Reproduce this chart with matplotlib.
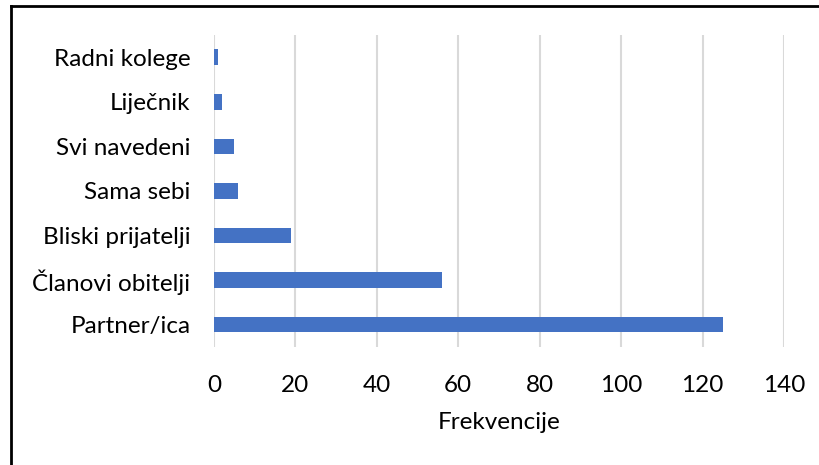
import matplotlib.pyplot as plt
from matplotlib.lines import Line2D

categories = ["Partner/ica", "Članovi obitelji", "Bliski prijatelji", "Sama sebi",
              "Svi navedeni", "Liječnik", "Radni kolege"]
values = [125, 56, 19, 6, 5, 2, 1]
xticks = [0, 20, 40, 60, 80, 100, 120, 140]

plt.rcParams['font.family'] = ['Lato', 'DejaVu Sans']

fig = plt.figure(figsize=(8.2, 4.65), dpi=100)
ax = fig.add_axes([0.261, 0.254, 0.695, 0.671])

ax.barh(range(len(categories)), values, height=0.35, color='#4472c4', zorder=3)
ax.set_yticks(range(len(categories)))
ax.set_yticklabels(categories, fontsize=17.5)
ax.set_ylim(-0.5, len(categories) - 0.5)
ax.set_xlim(0, 140)
ax.set_xticks(xticks)
ax.set_xticklabels([str(t) for t in xticks], fontsize=17.5)
ax.set_xlabel('Frekvencije', fontsize=17.5, labelpad=12)

ax.grid(axis='x', color='#d9d9d9', linewidth=1.5, zorder=0)
for s in ax.spines.values():
    s.set_visible(False)
ax.tick_params(axis='both', length=0)
ax.tick_params(axis='y', pad=17)
ax.tick_params(axis='x', pad=20)

# outer frame (only top and left visible in the crop)
fig.add_artist(Line2D([11 / 820, 1.0], [1 - 6 / 465, 1 - 6 / 465], color='black', linewidth=2))
fig.add_artist(Line2D([11 / 820, 11 / 820], [0, 1 - 6 / 465], color='black', linewidth=2))

fig.savefig('out.png', dpi=100, facecolor='white')
